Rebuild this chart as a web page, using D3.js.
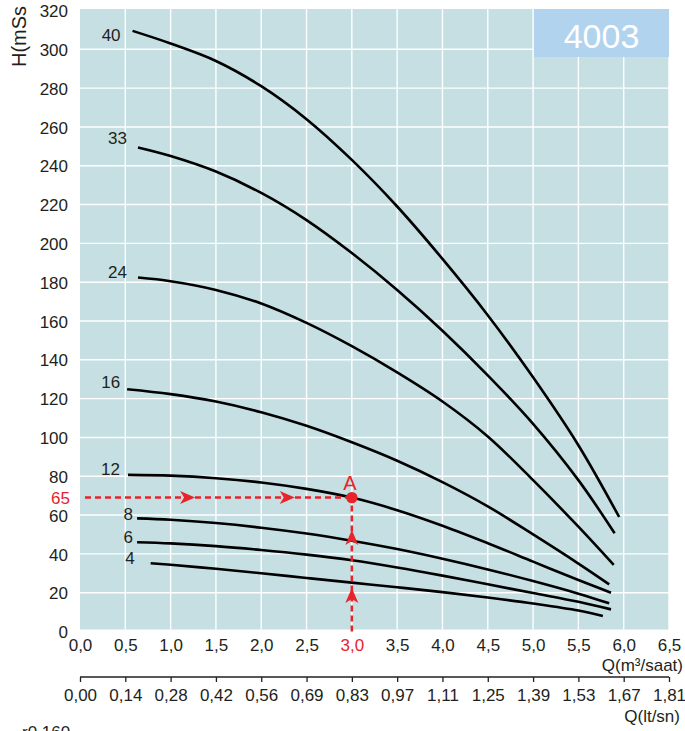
<!DOCTYPE html>
<html>
<head>
<meta charset="utf-8">
<script src="https://cdn.jsdelivr.net/npm/d3@7"></script>
<style>
	body { margin: 0; background: #fff; }
	svg text { font-family: "Liberation Sans", Arial, sans-serif; fill: #231f20; }
</style>
</head>
<body>
<div id="chart"></div>
<script>
// flow axis (m3/saat) and the matching lt/sn labels
const qTicks = [0, 0.5, 1, 1.5, 2, 2.5, 3, 3.5, 4, 4.5, 5, 5.5, 6, 6.5];
const qLabels = ["0,0", "0,5", "1,0", "1,5", "2,0", "2,5", "3,0", "3,5", "4,0", "4,5", "5,0", "5,5", "6,0", "6,5"];
const lpsLabels = ["0,00", "0,14", "0,28", "0,42", "0,56", "0,69", "0,83", "0,97", "1,11", "1,25", "1,39", "1,53", "1,67", "1,81"];
const hTicks = [0, 20, 40, 60, 80, 100, 120, 140, 160, 180, 200, 220, 240, 260, 280, 300, 320];

// pump curves, one per stage count: [Q, H]
const stages = ["40", "33", "24", "16", "12", "8", "6", "4"];
const curve40 = [[0.58, 309.5], [1.0, 303], [1.5, 294], [2.0, 281], [2.5, 264], [3.0, 243], [3.5, 219], [4.0, 192], [4.5, 163], [5.0, 131], [5.5, 96], [5.95, 59]];
const curve33 = [[0.64, 249.4], [1.0, 245], [1.5, 237], [2.0, 226], [2.5, 212], [3.0, 195], [3.5, 176], [4.0, 155], [4.5, 132], [5.0, 107], [5.5, 78], [5.9, 50.6]];
const curve24 = [[0.64, 182.4], [1.0, 180.5], [1.5, 176], [2.0, 169], [2.5, 159], [3.0, 147], [3.5, 133.5], [4.0, 118.5], [4.5, 100.5], [5.0, 78], [5.5, 54], [5.89, 34.3]];
const curve16 = [[0.52, 124.8], [1.0, 122.3], [1.5, 118.5], [2.0, 113], [2.5, 106], [3.0, 97.5], [3.5, 88], [4.0, 77], [4.5, 64.5], [5.0, 50], [5.5, 35], [5.84, 24.3]];
const curve12 = [[0.53, 80.7], [1.0, 80.3], [1.5, 79], [2.0, 76.8], [2.5, 73.5], [3.0, 69], [3.5, 62.5], [4.0, 54.5], [4.5, 45.5], [5.0, 36], [5.5, 26.5], [5.86, 20]];
const curve8 = [[0.63, 58.3], [1.0, 57.6], [1.5, 55.9], [2.0, 53.5], [2.5, 50.5], [3.0, 46.8], [3.5, 42.5], [4.0, 37.5], [4.5, 32], [5.0, 26], [5.5, 19.5], [5.84, 14.5]];
const curve6 = [[0.63, 46], [1.0, 45.4], [1.5, 44], [2.0, 42], [2.5, 39.6], [3.0, 36.7], [3.5, 33], [4.0, 28.8], [4.5, 24.3], [5.0, 19.8], [5.5, 15.3], [5.86, 11.4]];
const curve4 = [[0.78, 35.2], [1.0, 34.4], [1.5, 32.3], [2.0, 30], [2.5, 27.6], [3.0, 25.2], [3.5, 22.8], [4.0, 20.3], [4.5, 17.5], [5.0, 14.4], [5.5, 10.8], [5.77, 8]];
const curves = [curve40, curve33, curve24, curve16, curve12, curve8, curve6, curve4];

// duty point A
const opQ = 3.0;
const opH = 69;
const opLabel = "65";
const hArrowQ = [1.27, 2.37];
const vArrowH = [52.3, 22.4];

const width = 685, height = 731;
const margin = {top: 10.5, right: 16, bottom: 99.5, left: 80};

const svg = d3.select("#chart").append("svg")
	.attr("width", width)
	.attr("height", height);

const x = d3.scaleLinear().domain([0, 6.5]).range([margin.left, width - margin.right]);
const y = d3.scaleLinear().domain([0, 320]).range([height - margin.bottom, margin.top]);

// plot background + grid
svg.append("rect")
	.attr("x", x(0)).attr("y", y(320) - 1.5)
	.attr("width", x(6.5) - x(0)).attr("height", y(0) - y(320) - 0.5)
	.attr("fill", "#c5dfe2");

svg.append("g").selectAll("line")
	.data(qTicks.slice(1))
	.enter().append("line")
		.attr("x1", d => x(d)).attr("x2", d => x(d))
		.attr("y1", y(320) - 1.5).attr("y2", y(0) - 2)
		.attr("stroke", "#fff").attr("stroke-width", 1.4);

svg.append("g").selectAll("line")
	.data(hTicks.slice(1, -1))
	.enter().append("line")
		.attr("x1", x(0)).attr("x2", x(6.5))
		.attr("y1", d => y(d)).attr("y2", d => y(d))
		.attr("stroke", "#fff").attr("stroke-width", 1.4);

// model box
svg.append("rect")
	.attr("x", x(5.01)).attr("y", y(320) - 1.5)
	.attr("width", x(6.5) - x(5.01)).attr("height", 48)
	.attr("fill", "#b1d3ee");
svg.append("text")
	.attr("x", (x(5.01) + x(6.5)) / 2).attr("y", y(320) + 37)
	.attr("text-anchor", "middle")
	.style("font-size", "34px").style("fill", "#fff")
	.text("4003");

// y axis labels
const yAxis = svg.append("g")
	.attr("transform", "translate(" + (margin.left - 12) + ",0)")
	.call(d3.axisLeft(y).tickValues(hTicks).tickSize(0).tickPadding(0));
yAxis.select(".domain").remove();
yAxis.selectAll("text").style("font-size", "17px").attr("dy", "0.36em").style("font-family", null);

svg.append("text")
	.attr("transform", "translate(26,67) rotate(-90)")
	.style("font-size", "20px")
	.text("H(mSs");

// top x labels (m3/saat)
const xAxis = svg.append("g")
	.attr("transform", "translate(0," + (y(0) + 7) + ")")
	.call(d3.axisBottom(x).tickValues(qTicks).tickSize(0).tickPadding(0)
		.tickFormat((d, i) => qLabels[i]));
xAxis.select(".domain").remove();
xAxis.selectAll("text").style("font-size", "17px").attr("dy", "0.71em").style("font-family", null)
	.style("fill", d => d === opQ ? "#e8232a" : "#231f20");

svg.append("text")
	.attr("x", 683).attr("y", 671)
	.attr("text-anchor", "end")
	.style("font-size", "17px")
	.text("Q(m³/saat)");

// second axis (lt/sn)
const lpsAxis = svg.append("g")
	.attr("transform", "translate(0,677)")
	.call(d3.axisBottom(x).tickValues(qTicks).tickSize(5).tickPadding(7)
		.tickFormat((d, i) => lpsLabels[i]));
lpsAxis.select(".domain").attr("stroke", "#231f20").attr("stroke-width", 1.3)
	.attr("d", "M" + x(0) + ",0H" + x(6.5));
lpsAxis.selectAll("line").attr("stroke", "#231f20").attr("stroke-width", 1.3);
lpsAxis.selectAll("text").style("font-size", "17px").style("font-family", null);

svg.append("text")
	.attr("x", 680).attr("y", 722)
	.attr("text-anchor", "end")
	.style("font-size", "17px")
	.text("Q(lt/sn)");

// footnote, cut by the page edge as in the original
svg.append("text")
	.attr("x", 22).attr("y", 738)
	.style("font-size", "17px")
	.text("r0.160");

// curves
const line = d3.line()
	.x(d => x(d[0]))
	.y(d => y(d[1]))
	.curve(d3.curveCatmullRom.alpha(0.5));

svg.append("g").selectAll("path")
	.data(curves)
	.enter().append("path")
		.attr("d", line)
		.attr("fill", "none")
		.attr("stroke", "#000")
		.attr("stroke-width", 2.6);

// stage labels sit left of each curve start, nudged per label
const labelDx = [-12, -11, -11, -7, -8, -4, -4, -16];
const labelDy = [10, -4, 0, -1, 0, 2, 1, 1];
svg.append("g").selectAll("text")
	.data(curves)
	.enter().append("text")
		.attr("x", (d, i) => x(d[0][0]) + labelDx[i])
		.attr("y", (d, i) => y(d[0][1]) + labelDy[i])
		.attr("text-anchor", "end")
		.style("font-size", "17px")
		.text((d, i) => stages[i]);

// duty point annotation
const red = "#e8232a";
const ann = svg.append("g");
ann.append("line")
	.attr("x1", x(0) + 5).attr("x2", x(opQ))
	.attr("y1", y(opH)).attr("y2", y(opH))
	.attr("stroke", red).attr("stroke-width", 2.5).attr("stroke-dasharray", "6,4");
ann.append("line")
	.attr("x1", x(opQ)).attr("x2", x(opQ))
	.attr("y1", y(0)).attr("y2", y(opH))
	.attr("stroke", red).attr("stroke-width", 2.5).attr("stroke-dasharray", "6,4");

const arrow = "M0,0L-15,-6.5L-11,0L-15,6.5Z";
ann.selectAll("path.h")
	.data(hArrowQ)
	.enter().append("path")
		.attr("class", "h")
		.attr("d", arrow)
		.attr("transform", d => "translate(" + x(d) + "," + y(opH) + ")")
		.attr("fill", red);
ann.selectAll("path.v")
	.data(vArrowH)
	.enter().append("path")
		.attr("class", "v")
		.attr("d", arrow)
		.attr("transform", d => "translate(" + x(opQ) + "," + y(d) + ") rotate(-90)")
		.attr("fill", red);

ann.append("circle")
	.attr("cx", x(opQ)).attr("cy", y(opH))
	.attr("r", 5.7).attr("fill", red);
ann.append("text")
	.attr("x", x(opQ) - 2).attr("y", y(opH) - 8)
	.attr("text-anchor", "middle")
	.style("font-size", "20px").style("fill", red)
	.text("A");
ann.append("text")
	.attr("x", 70).attr("y", y(opH) + 6)
	.attr("text-anchor", "end")
	.style("font-size", "17px").style("fill", red)
	.text(opLabel);
</script>
</body>
</html>
